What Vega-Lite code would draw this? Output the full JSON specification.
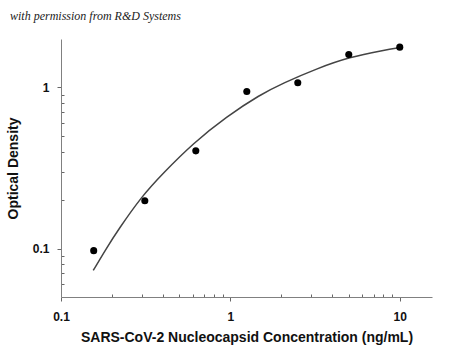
{
  "$schema": "https://vega.github.io/schema/vega-lite/v6.json",
  "width": 371,
  "height": 258,
  "autosize": {"type": "none"},
  "padding": {"left": 61, "top": 39, "right": 18, "bottom": 58},
  "background": "white",
  "title": {
    "text": "with permission from R&D Systems",
    "anchor": "start",
    "frame": "group",
    "dx": -51,
    "offset": 7,
    "baseline": "alphabetic",
    "font": "Liberation Serif",
    "fontStyle": "italic",
    "fontWeight": "normal",
    "fontSize": 12,
    "color": "#222"
  },
  "config": {
    "view": {"stroke": null},
    "axis": {"grid": false}
  },
  "datasets": {
    "points": [
      {"x": 0.156, "y": 0.097},
      {"x": 0.3125, "y": 0.198},
      {"x": 0.625, "y": 0.404},
      {"x": 1.25, "y": 0.944},
      {"x": 2.5, "y": 1.07},
      {"x": 5, "y": 1.6},
      {"x": 10, "y": 1.78}
    ],
    "curve": [
      {"x": 0.155, "y": 0.0731},
      {"x": 0.185, "y": 0.1},
      {"x": 0.218, "y": 0.131},
      {"x": 0.299, "y": 0.2105},
      {"x": 0.401, "y": 0.294},
      {"x": 0.603, "y": 0.451},
      {"x": 0.95, "y": 0.66},
      {"x": 1.49, "y": 0.9},
      {"x": 2.05, "y": 1.065},
      {"x": 3.23, "y": 1.31},
      {"x": 5.07, "y": 1.546},
      {"x": 7.97, "y": 1.7},
      {"x": 10.3, "y": 1.78}
    ]
  },
  "encoding": {
    "x": {
      "field": "x",
      "type": "quantitative",
      "scale": {"type": "log", "domain": [0.1, 15.5], "nice": false},
      "axis": {
        "title": "SARS-CoV-2 Nucleocapsid Concentration (ng/mL)",
        "values": [0.1, 0.2, 0.3, 0.4, 0.5, 0.6, 0.7, 0.8, 0.9, 1, 2, 3, 4, 5, 6, 7, 8, 9, 10],
        "labelExpr": "datum.value == 0.1 || datum.value == 1 || datum.value == 10 ? datum.label : ''",
        "ticks": true,
        "tickSize": {"condition": {"test": "datum.value == 0.1 || datum.value == 1 || datum.value == 10", "value": 4}, "value": -3},
        "tickWidth": 1,
        "labelPadding": 10,
        "labelFont": "Liberation Sans",
        "labelFontWeight": "bold",
        "labelFontSize": 12,
        "labelColor": "#111",
        "labelFlush": false,
        "titleFont": "Liberation Sans",
        "titleFontWeight": "bold",
        "titleFontSize": 14,
        "titleColor": "#111",
        "titlePadding": 8,
        "domainColor": "#808080",
        "tickColor": "#666666"
      }
    },
    "y": {
      "field": "y",
      "type": "quantitative",
      "scale": {"type": "log", "domain": [0.05, 2], "nice": false},
      "axis": {
        "title": "Optical Density",
        "values": [0.06, 0.07, 0.08, 0.09, 0.1, 0.2, 0.3, 0.4, 0.5, 0.6, 0.7, 0.8, 0.9, 1],
        "labelExpr": "datum.value == 0.1 || datum.value == 1 ? datum.label : ''",
        "ticks": true,
        "tickSize": {"condition": {"test": "datum.value == 0.1 || datum.value == 1", "value": 4}, "value": -3},
        "tickWidth": 1,
        "labelPadding": 8,
        "labelFont": "Liberation Sans",
        "labelFontWeight": "bold",
        "labelFontSize": 12,
        "labelColor": "#111",
        "labelFlush": false,
        "titleFont": "Liberation Sans",
        "titleFontWeight": "bold",
        "titleFontSize": 14,
        "titleColor": "#111",
        "titlePadding": 12,
        "domainColor": "#808080",
        "tickColor": "#666666"
      }
    }
  },
  "layer": [
    {
      "data": {"name": "curve"},
      "mark": {"type": "line", "color": "#444", "strokeWidth": 1.5, "interpolate": "basis"}
    },
    {
      "data": {"name": "points"},
      "mark": {"type": "circle", "color": "black", "opacity": 1, "size": 50}
    }
  ]
}
